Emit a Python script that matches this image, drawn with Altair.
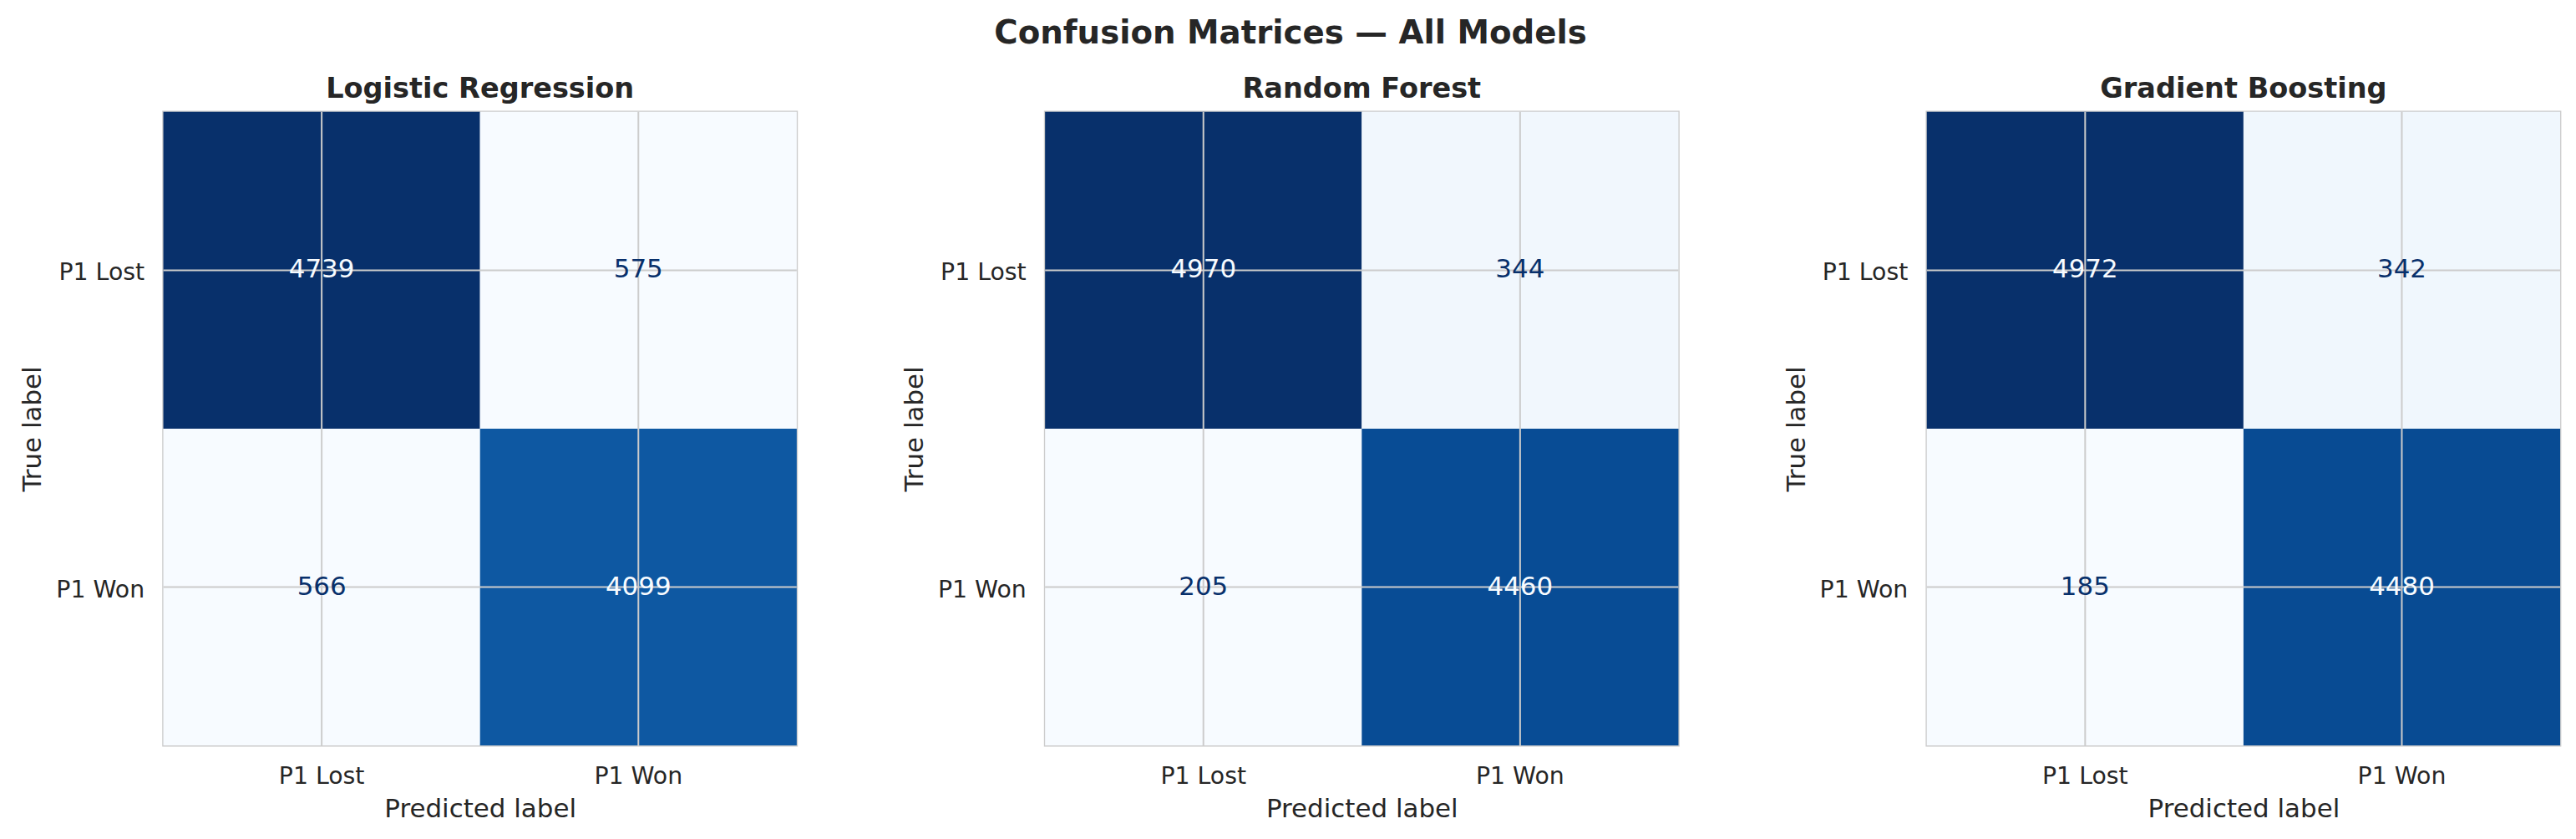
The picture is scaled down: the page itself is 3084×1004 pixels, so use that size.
import altair as alt
import pandas as pd

# Confusion matrices (rows = true label, columns = predicted label)
models = ["Logistic Regression", "Random Forest", "Gradient Boosting"]
class_labels = ["P1 Lost", "P1 Won"]
lr_counts = [[4739, 575], [566, 4099]]
rf_counts = [[4970, 344], [205, 4460]]
gb_counts = [[4972, 342], [185, 4480]]
all_counts = [lr_counts, rf_counts, gb_counts]

# ColorBrewer "Blues" stops, evenly spaced over the normalised count
blues = ["#f7fbff", "#deebf7", "#c6dbef", "#9ecae1", "#6baed6",
         "#4292c6", "#2171b5", "#08519c", "#08306b"]
blue_stops = [i / 8 for i in range(9)]

FONT = "DejaVu Sans"
INK = "#262626"
GRID = "#cccccc"
SIDE = 760


def panel(name, counts):
    rows = []
    for i, t in enumerate(class_labels):
        for j, p in enumerate(class_labels):
            rows.append({"true": t, "pred": p, "count": counts[i][j]})
    df = pd.DataFrame(rows)

    x_enc = alt.X("pred:N", sort=class_labels, title="Predicted label",
                  scale=alt.Scale(domain=class_labels, paddingInner=0, paddingOuter=0),
                  axis=alt.Axis(labelAngle=0))
    y_enc = alt.Y("true:N", sort=class_labels, title="True label",
                  scale=alt.Scale(domain=class_labels, paddingInner=0, paddingOuter=0),
                  axis=alt.Axis(labelAngle=0, labelOffset=3))

    # each matrix is coloured on its own min..max range
    base = alt.Chart(df).transform_joinaggregate(
        lo="min(count)", hi="max(count)"
    ).transform_calculate(
        t="(datum.count - datum.lo) / (datum.hi - datum.lo)"
    )

    cells = base.mark_rect().encode(
        x=x_enc, y=y_enc,
        color=alt.Color("t:Q", legend=None,
                        scale=alt.Scale(domain=blue_stops, range=blues, interpolate="rgb")),
    )

    vgrid = alt.Chart(pd.DataFrame({"pred": class_labels})).mark_rule(
        color=GRID, strokeWidth=2
    ).encode(x=x_enc)
    hgrid = alt.Chart(pd.DataFrame({"true": class_labels})).mark_rule(
        color=GRID, strokeWidth=2
    ).encode(y=y_enc)

    values = base.mark_text(font=FONT, fontSize=31, baseline="middle", align="center").encode(
        x=x_enc, y=y_enc,
        text=alt.Text("count:Q", format="d"),
        color=alt.condition("datum.t < 0.5", alt.value("#08306b"), alt.value("#f7fbff")),
    )

    return alt.layer(cells, vgrid, hgrid, values).properties(
        width=SIDE, height=SIDE,
        title=alt.TitleParams(name, font=FONT, fontSize=33.6, fontWeight="bold",
                              color=INK, anchor="middle", frame="group", offset=9),
    )


chart = alt.hconcat(
    *[panel(m, c) for m, c in zip(models, all_counts)], spacing=121
).properties(
    title=alt.TitleParams("Confusion Matrices — All Models", font=FONT, fontSize=38.8,
                          fontWeight="bold", color=INK, anchor="middle", offset=29),
    padding={"left": 22, "top": 20, "right": 16, "bottom": 10},
    background="white",
).configure_view(
    stroke=GRID, strokeWidth=2.7
).configure_axis(
    labelFont=FONT, labelFontSize=28.4, labelColor=INK,
    titleFont=FONT, titleFontSize=31, titleFontWeight="normal", titleColor=INK,
    ticks=False, domain=False, grid=False, labelPadding=23, titlePadding=11,
)

chart.save("out.html", embed_options={"renderer": "svg", "actions": False})
